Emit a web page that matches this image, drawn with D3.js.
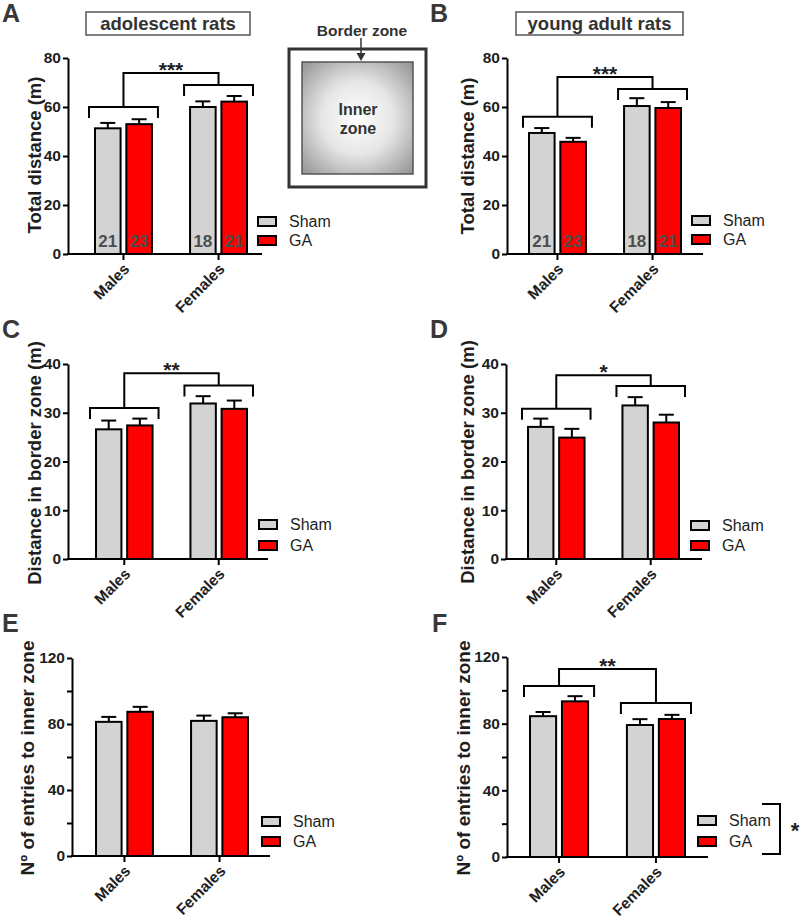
<!DOCTYPE html>
<html><head><meta charset="utf-8">
<script src="https://cdn.jsdelivr.net/npm/d3@7"></script>
<style>
body{margin:0;background:#fff}
svg{display:block}
text{font-family:"Liberation Sans",Arial,Helvetica,sans-serif}
</style>
</head><body>
<svg id="chart" width="800" height="919"></svg>
<script>
// ---------- data ----------
const groups = ["Males", "Females"];
const series = ["Sham", "GA"];

// A: adolescent, total distance (m)
const shamA = [51.3, 60.0], shamAErr = [2.2, 2.3];
const gaA   = [53.0, 62.2], gaAErr   = [2.0, 2.3];
const nShamA = [21, 18], nGaA = [23, 21];
const ticksA = [0, 20, 40, 60, 80];
const bracketsA = {male: 60, female: 69, top: 73.9, stars: "***"};

// B: young adult, total distance (m)
const shamB = [49.4, 60.4], shamBErr = [2.0, 3.2];
const gaB   = [45.8, 59.6], gaBErr   = [1.6, 2.4];
const nShamB = [21, 18], nGaB = [23, 21];
const ticksB = [0, 20, 40, 60, 80];
const bracketsB = {male: 56, female: 67.3, top: 72.2, stars: "***"};

// C: adolescent, distance in border zone (m)
const shamC = [26.6, 31.9], shamCErr = [1.8, 1.5];
const gaC   = [27.4, 30.8], gaCErr   = [1.4, 1.7];
const ticksC = [0, 10, 20, 30, 40];
const bracketsC = {male: 31, female: 35.6, top: 38.1, stars: "**"};

// D: young adult, distance in border zone (m)
const shamD = [27.1, 31.5], shamDErr = [1.7, 1.7];
const gaD   = [24.9, 28.0], gaDErr   = [1.8, 1.6];
const ticksD = [0, 10, 20, 30, 40];
const bracketsD = {male: 30.8, female: 35.5, top: 37.7, stars: "*"};

// E: adolescent, entries to inner zone
const shamE = [81.3, 81.9], shamEErr = [3.0, 3.2];
const gaE   = [87.4, 84.1], gaEErr   = [3.0, 2.4];
const ticksE = [0, 20, 40, 60, 80, 100, 120];

// F: young adult, entries to inner zone
const shamF = [84.5, 79.2], shamFErr = [2.5, 3.5];
const gaF   = [93.4, 82.8], gaFErr   = [3.1, 2.5];
const ticksF = [0, 20, 40, 60, 80, 100, 120];
const bracketsF = {male: 102.6, female: 92.4, top: 112.8, stars: "**"};

const legendLabels = ["Sham", "GA"];
const titles = ["adolescent rats", "young adult rats"];

// ---------- style ----------
const colors = {Sham: "#d3d3d3", GA: "#ff0000"};
const TXT = "#1e1e1e";
const svg = d3.select("#chart");

// gradient for inset
const defs = svg.append("defs");
const rg = defs.append("radialGradient").attr("id", "innerGrad").attr("cx", "50%").attr("cy", "50%").attr("r", "72%");
rg.append("stop").attr("offset", "0%").attr("stop-color", "#ffffff");
rg.append("stop").attr("offset", "45%").attr("stop-color", "#e6e6e6");
rg.append("stop").attr("offset", "100%").attr("stop-color", "#8e8e8e");

function drawPanel(p, L) {
  const g = svg.append("g");
  const yMax = p.ticks[p.ticks.length - 1];
  const y = d3.scaleLinear().domain([0, yMax]).range([L.bottom, L.top]);
  const x0 = d3.scaleBand().domain(groups).range([L.b0, L.b1]).paddingInner(0.38).paddingOuter(0);
  const x1 = d3.scaleBand().domain(series).range([0, x0.bandwidth()]).paddingInner(0.12);

  const rows = [];
  groups.forEach((grp, i) => {
    series.forEach(s => {
      rows.push({grp, s, v: p.vals[s][i], e: p.errs[s][i], n: p.n ? p.n[s][i] : null});
    });
  });

  // error bars (upward only)
  const capW = 15;
  const eb = g.append("g").attr("stroke", "#000").attr("stroke-width", 2);
  rows.forEach(r => {
    const cx = x0(r.grp) + x1(r.s) + x1.bandwidth() / 2;
    eb.append("line").attr("x1", cx).attr("x2", cx).attr("y1", y(r.v)).attr("y2", y(r.v + r.e));
    eb.append("line").attr("x1", cx - capW / 2).attr("x2", cx + capW / 2).attr("y1", y(r.v + r.e)).attr("y2", y(r.v + r.e));
  });

  // bars
  g.append("g").selectAll("rect").data(rows).join("rect")
    .attr("x", d => x0(d.grp) + x1(d.s) + 1)
    .attr("y", d => y(d.v))
    .attr("width", x1.bandwidth() - 2)
    .attr("height", d => y(0) - y(d.v))
    .attr("fill", d => colors[d.s])
    .attr("stroke", "#000").attr("stroke-width", 2);

  // n labels
  if (p.n) {
    g.append("g").selectAll("text").data(rows).join("text")
      .attr("x", d => x0(d.grp) + x1(d.s) + x1.bandwidth() / 2)
      .attr("y", L.bottom - 7)
      .attr("text-anchor", "middle")
      .attr("font-size", 17).attr("font-weight", "bold")
      .attr("fill", "#4d4d4d")
      .text(d => d.n);
  }

  // y axis
  const ya = g.append("g").attr("transform", `translate(${L.ax},0)`)
    .call(d3.axisLeft(y).tickValues(p.ticks).tickSize(5).tickSizeOuter(0).tickPadding(2)
      .tickFormat(d => (p.labelEvery ? (d % p.labelEvery === 0 ? d : "") : d)));
  ya.select(".domain").attr("stroke", "#000").attr("stroke-width", 2);
  ya.selectAll(".tick line").attr("stroke", "#000").attr("stroke-width", 2);
  ya.selectAll(".tick text").attr("font-size", 15.5).attr("font-weight", "bold").attr("fill", TXT)
    .attr("font-family", '"Liberation Sans",Arial,sans-serif');

  // x axis baseline
  g.append("line").attr("x1", L.ax - 1).attr("x2", L.xEnd).attr("y1", y(0)).attr("y2", y(0))
    .attr("stroke", "#000").attr("stroke-width", 2);
  const xa = g.append("g").attr("transform", `translate(0,${y(0)})`)
    .call(d3.axisBottom(x0).tickSize(6).tickSizeOuter(0));
  xa.select(".domain").remove();
  xa.selectAll(".tick line").attr("stroke", "#000").attr("stroke-width", 2);
  xa.selectAll(".tick text")
    .attr("font-size", 15.5).attr("font-weight", "bold").attr("fill", TXT)
    .attr("font-family", '"Liberation Sans",Arial,sans-serif')
    .attr("text-anchor", "end")
    .attr("x", 0).attr("y", 0).attr("dy", 0)
    .attr("transform", "translate(7,16) rotate(-45)");

  // y label
  g.append("text")
    .attr("transform", `translate(${L.labX},${L.labY}) rotate(-90)`)
    .attr("text-anchor", "middle").attr("dy", "0.35em")
    .attr("font-size", p.labSize || 18.5).attr("font-weight", "bold").attr("fill", TXT)
    .text(p.label);

  // panel letter
  g.append("text").attr("x", L.letX).attr("y", L.letY)
    .attr("font-size", 25).attr("font-weight", "bold").attr("fill", "#383838")
    .text(p.letter);

  // significance brackets
  if (p.br) {
    const leg = 11;
    const bg = g.append("g").attr("fill", "none").attr("stroke", "#000").attr("stroke-width", 2);
    const ext = 5;
    const mL = x0("Males") - ext, mR = x0("Males") + x0.bandwidth() + ext;
    const fL = x0("Females") - ext, fR = x0("Females") + x0.bandwidth() + ext;
    const mC = x0("Males") + x0.bandwidth() / 2, fC = x0("Females") + x0.bandwidth() / 2;
    bg.append("path").attr("d", `M${mL},${y(p.br.male) + leg}V${y(p.br.male)}H${mR}V${y(p.br.male) + leg}`);
    bg.append("path").attr("d", `M${fL},${y(p.br.female) + leg}V${y(p.br.female)}H${fR}V${y(p.br.female) + leg}`);
    bg.append("path").attr("d", `M${mC},${y(p.br.male)}V${y(p.br.top)}H${fC}V${y(p.br.female)}`);
    g.append("text").attr("x", (mC + fC) / 2).attr("y", y(p.br.top) + 4)
      .attr("text-anchor", "middle").attr("font-size", 21).attr("font-weight", "bold").attr("fill", TXT)
      .text(p.br.stars);
  }

  // legend
  const lg = g.append("g");
  legendLabels.forEach((lab, i) => {
    const ly = L.legY + i * L.legDy;
    lg.append("rect").attr("x", L.legX + 1).attr("y", ly + 1).attr("width", 18).attr("height", 9)
      .attr("fill", colors[series[i]]).attr("stroke", "#000").attr("stroke-width", 2);
    lg.append("text").attr("x", L.legX + 32).attr("y", ly + 5.5).attr("dy", "0.35em")
      .attr("font-size", 16).attr("fill", TXT).text(lab);
  });
  if (p.legendStar) {
    const top = L.legY - 11, bot = L.legY + L.legDy + 18;
    lg.append("path").attr("d", `M${L.legX + 65},${top}H${L.legX + 83}V${bot}H${L.legX + 65}`)
      .attr("fill", "none").attr("stroke", "#000").attr("stroke-width", 2);
    lg.append("text").attr("x", L.legX + 98).attr("y", (top + bot) / 2 + 9)
      .attr("text-anchor", "middle").attr("font-size", 22).attr("font-weight", "bold").attr("fill", TXT).text("*");
  }
}

const panels = [
  {letter: "A", vals: {Sham: shamA, GA: gaA}, errs: {Sham: shamAErr, GA: gaAErr}, n: {Sham: nShamA, GA: nGaA},
   ticks: ticksA, label: "Total distance (m)", br: bracketsA},
  {letter: "B", vals: {Sham: shamB, GA: gaB}, errs: {Sham: shamBErr, GA: gaBErr}, n: {Sham: nShamB, GA: nGaB},
   ticks: ticksB, label: "Total distance (m)", br: bracketsB},
  {letter: "C", vals: {Sham: shamC, GA: gaC}, errs: {Sham: shamCErr, GA: gaCErr},
   ticks: ticksC, label: "Distance in border zone (m)", br: bracketsC},
  {letter: "D", vals: {Sham: shamD, GA: gaD}, errs: {Sham: shamDErr, GA: gaDErr},
   ticks: ticksD, label: "Distance in border zone (m)", br: bracketsD},
  {letter: "E", vals: {Sham: shamE, GA: gaE}, errs: {Sham: shamEErr, GA: gaEErr},
   ticks: ticksE, labelEvery: 40, label: "Nº of entries to inner zone", labSize: 19},
  {letter: "F", vals: {Sham: shamF, GA: gaF}, errs: {Sham: shamFErr, GA: gaFErr},
   ticks: ticksF, labelEvery: 40, label: "Nº of entries to inner zone", labSize: 19, br: bracketsF, legendStar: true}
];

const layouts = [
  {ax: 68, top: 58, bottom: 254, xEnd: 262, b0: 94, b1: 248, labX: 35, labY: 155, letX: 2, letY: 22, legX: 257, legY: 216, legDy: 19},
  {ax: 507, top: 58, bottom: 254, xEnd: 703, b0: 528, b1: 682, labX: 468, labY: 156, letX: 430, letY: 22, legX: 691, legY: 215, legDy: 19},
  {ax: 68, top: 364, bottom: 559, xEnd: 268, b0: 95, b1: 248, labX: 35, labY: 463, letX: 2, letY: 338, legX: 258, legY: 519, legDy: 21},
  {ax: 506, top: 364, bottom: 559, xEnd: 702, b0: 527, b1: 680, labX: 468, labY: 462, letX: 430, letY: 338, legX: 690, legY: 520, legDy: 20},
  {ax: 72, top: 658, bottom: 856, xEnd: 270, b0: 95, b1: 249, labX: 27, labY: 758, letX: 2, letY: 632, legX: 261, legY: 816, legDy: 20},
  {ax: 507, top: 657, bottom: 857, xEnd: 708, b0: 529, b1: 686, labX: 463, labY: 758, letX: 432, letY: 632, legX: 697, legY: 815, legDy: 21}
];

panels.forEach((p, i) => drawPanel(p, layouts[i]));

// title boxes
const titleBoxes = [{x: 86, w: 164}, {x: 516, w: 167}];
titles.forEach((t, i) => {
  const b = titleBoxes[i];
  svg.append("rect").attr("x", b.x).attr("y", 12).attr("width", b.w).attr("height", 23)
    .attr("fill", "#fff").attr("stroke", "#555").attr("stroke-width", 1.5);
  svg.append("text").attr("x", b.x + b.w / 2).attr("y", 30).attr("text-anchor", "middle")
    .attr("font-size", 18.5).attr("font-weight", "bold").attr("fill", "#333").text(t);
});

// inset arena diagram
const inset = svg.append("g");
inset.append("rect").attr("x", 289).attr("y", 49).attr("width", 137).attr("height", 138)
  .attr("fill", "#fff").attr("stroke", "#333").attr("stroke-width", 3);
inset.append("rect").attr("x", 302).attr("y", 62).attr("width", 111).attr("height", 112)
  .attr("fill", "url(#innerGrad)").attr("stroke", "#555").attr("stroke-width", 1.5);
inset.append("text").attr("x", 362).attr("y", 36).attr("text-anchor", "middle")
  .attr("font-size", 15.5).attr("font-weight", "bold").attr("fill", "#333").text("Border zone");
inset.append("line").attr("x1", 361).attr("x2", 361).attr("y1", 38).attr("y2", 54)
  .attr("stroke", "#333").attr("stroke-width", 1.5);
inset.append("path").attr("d", "M356.5,53 L365.5,53 L361,61 Z").attr("fill", "#333");
inset.append("text").attr("x", 358).attr("y", 115).attr("text-anchor", "middle")
  .attr("font-size", 16).attr("font-weight", "bold").attr("fill", "#333").text("Inner");
inset.append("text").attr("x", 358).attr("y", 134).attr("text-anchor", "middle")
  .attr("font-size", 16).attr("font-weight", "bold").attr("fill", "#333").text("zone");
</script>
</body></html>
